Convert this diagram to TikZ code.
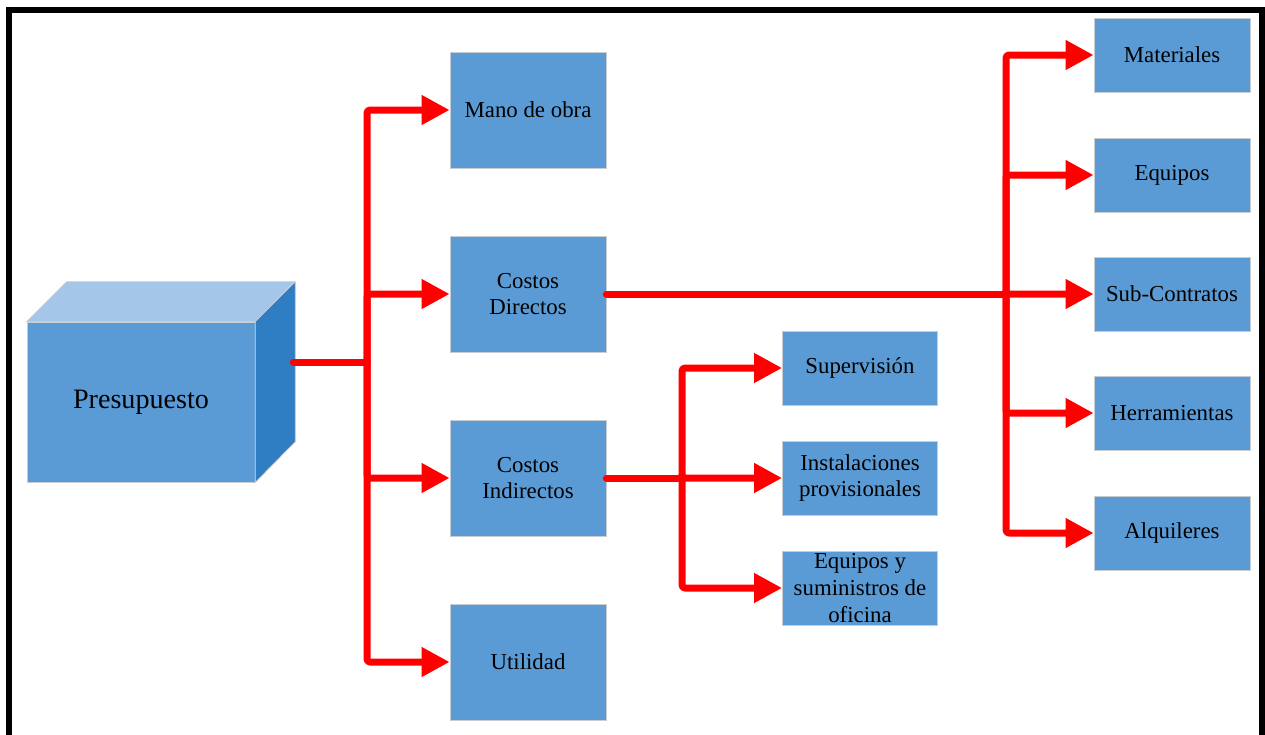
\documentclass[tikz,border=0pt]{standalone}
\usepackage{fontspec}
\setmainfont{Liberation Serif}
\usetikzlibrary{arrows.meta, calc}
\definecolor{boxBlue}{RGB}{91,155,213}
\definecolor{cubeTop}{RGB}{164,199,233}
\definecolor{cubeSide}{RGB}{47,125,194}
\definecolor{edgeGray}{RGB}{200,205,212}

\begin{document}
\begin{tikzpicture}[x=0.02cm, y=-0.02cm,
    box/.style={draw=edgeGray, fill=boxBlue, minimum width=3.12cm, minimum height=2.32cm, inner sep=0pt, align=center, font=\fontsize{13}{15.3}\selectfont},
    sbox/.style={box, minimum height=1.48cm},
    conn/.style={red, line width=0.14cm, line cap=round, line join=round, rounded corners=0.06cm},
    arr/.style={conn, -{Triangle[length=0.56cm, width=0.56cm]}}]
    \clip (0,0) rectangle (1265,734);
    \draw[line width=0.12cm] (9,760) |- (1262,10) -- (1262,760);
    \node[draw=edgeGray, fill=boxBlue, minimum width=4.56cm, minimum height=3.2cm, font=\fontsize{16}{19}\selectfont] (cube) at (141,402) {Presupuesto};
    \draw[draw=edgeGray, fill=cubeTop] (cube.north west) -- ++(40,-40) -- ++(228,0) -- (cube.north east) -- cycle;
    \draw[draw=edgeGray, fill=cubeSide] (cube.north east) -- ++(40,-40) -- ++(0,160) -- (cube.south east) -- cycle;
    \coordinate (cubeR) at ($(cube.east)+(38,-40)$);
    \node[box] (mano) at (528,110) {Mano de obra};
    \node[box] (cdir) at (528,294) {Costos\\Directos};
    \node[box] (cind) at (528,478) {Costos\\Indirectos};
    \node[box] (util) at (528,662) {Utilidad};
    \node[sbox] (mat) at (1172,55) {Materiales};
    \node[sbox] (equ) at (1172,175) {Equipos};
    \node[sbox] (sub) at (1172,294) {Sub-Contratos};
    \node[sbox] (her) at (1172,413) {Herramientas};
    \node[sbox] (alq) at (1172,533) {Alquileres};
    \node[sbox, minimum width=3.1cm] (sup) at (860,368) {Supervisión};
    \node[sbox, minimum width=3.1cm] (ins) at (860,478) {Instalaciones\\provisionales};
    \node[sbox, minimum width=3.1cm] (eqs) at (860,588) {Equipos y\\suministros de\\oficina};
    \coordinate (j1) at (367,362);
    \coordinate (j2) at (1006,294);
    \coordinate (j3) at (682,478);
    \draw[conn] (cubeR) -- (j1);
    \foreach \t in {mano,cdir,cind,util} \draw[arr] (j1) |- (\t.west);
    \draw[conn] (cdir.east) -- (j2);
    \foreach \t in {mat,equ,sub,her,alq} \draw[arr] (j2) |- (\t.west);
    \draw[conn] (cind.east) -- (j3);
    \foreach \t in {sup,ins,eqs} \draw[arr] (j3) |- (\t.west);
\end{tikzpicture}
\end{document}
